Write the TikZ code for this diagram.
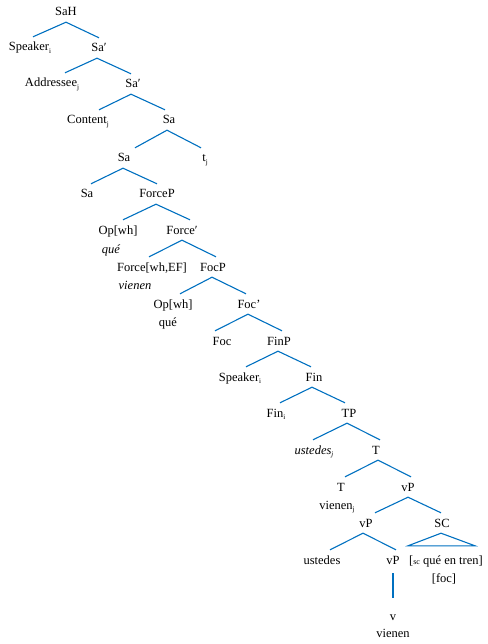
\documentclass[tikz,border=0pt]{standalone}
\usepackage{fontspec}
\setmainfont{Liberation Serif}
\definecolor{treeblue}{RGB}{0,112,192}
\newcommand{\sbs}[1]{\raisebox{-0.35ex}{\fontsize{7}{8}\selectfont #1}}
\begin{document}
\begin{tikzpicture}[x=1pt,y=-1pt,
  lab/.style={font=\fontsize{12.5}{14}\selectfont, text height=11pt, text depth=3pt, inner xsep=1pt, inner ysep=3pt},
  br/.style={draw=treeblue, line width=1.1pt}]
\useasboundingbox (0,0) rectangle (487,644);
\node[lab] (sah) at (66,12) {SaH};
\node[lab] (spk1) at (30,47) {Speaker\sbs{i}};
\node[lab] (sa1) at (99,48) {Sa′};
\node[lab] (addr) at (52,83) {Addressee\sbs{j}};
\node[lab] (sa2) at (133,84) {Sa′};
\node[lab] (cont) at (88,120) {Content\sbs{j}};
\node[lab] (sa3) at (169,120) {Sa};
\node[lab] (sa4) at (124,158) {Sa};
\node[lab] (tj) at (205,158) {t\sbs{j}};
\node[lab] (sa5) at (87,194) {Sa};
\node[lab] (forcep) at (157,194) {ForceP};
\node[lab] (op1) at (118,230) {Op[wh]};
\node[lab] (que1) at (111,249) {\itshape qué};
\node[lab] (forcebar) at (182,230) {Force′};
\node[lab] (force) at (152,267) {Force[wh,EF]};
\node[lab] (vienen1) at (135,285) {\itshape vienen};
\node[lab] (focp) at (213,267) {FocP};
\node[lab] (op2) at (173,304) {Op[wh]};
\node[lab] (que2) at (168,322) {qué};
\node[lab] (focbar) at (249,304) {Foc'};
\node[lab] (foc) at (222,341) {Foc};
\node[lab] (finp) at (279,341) {FinP};
\node[lab] (spk2) at (240,377) {Speaker\sbs{i}};
\node[lab] (fin) at (314,377) {Fin};
\node[lab] (fini) at (276,413) {Fin\sbs{i}};
\node[lab] (tp) at (349,413) {TP};
\node[lab] (ust1) at (314,450) {\itshape ustedes\sbs{j}};
\node[lab] (t1) at (376,450) {T};
\node[lab] (t2) at (341,487) {T};
\node[lab] (vienen2) at (337,505) {vienen\sbs{j}};
\node[lab] (vp1) at (408,487) {vP};
\node[lab] (vp2) at (366,523) {vP};
\node[lab] (sc) at (442,523) {SC};
\node[lab] (ust2) at (322,560) {ustedes};
\node[lab] (vp3) at (393,560) {vP};
\node[lab] (scq) at (446,560) {[{\footnotesize sc} qué en tren]};
\node[lab] (foc2) at (444,578) {[foc]};
\node[lab] (v) at (393,616) {v};
\node[lab] (vienen3) at (393,633) {vienen};
% branches
\draw[br] ([xshift=3pt]spk1.north) -- (sah.south) -- (sa1.north);
\draw[br] ([xshift=13pt]addr.north) -- ([xshift=-2pt]sa1.south) -- ([xshift=-2pt]sa2.north);
\draw[br] ([xshift=11pt]cont.north) -- ([xshift=-2pt]sa2.south) -- ([xshift=-4pt]sa3.north);
\draw[br] ([xshift=11pt]sa4.north) -- ([xshift=-2pt]sa3.south) -- ([xshift=-4pt]tj.north);
\draw[br] ([xshift=4pt]sa5.north) -- ([xshift=-1pt]sa4.south) -- (forcep.north);
\draw[br] ([xshift=5pt]op1.north) -- ([xshift=-1pt]forcep.south) -- ([xshift=8pt]forcebar.north);
\draw[br] ([xshift=-3pt]force.north) -- (forcebar.south) -- ([xshift=3pt]focp.north);
\draw[br] ([xshift=7pt]op2.north) -- ([xshift=-1pt]focp.south) -- ([xshift=-3pt]focbar.north);
\draw[br] ([xshift=-7pt]foc.north) -- ([xshift=-1pt]focbar.south) -- ([xshift=3pt]finp.north);
\draw[br] ([xshift=6pt]spk2.north) -- ([xshift=-1pt]finp.south) -- ([xshift=-3pt]fin.north);
\draw[br] ([xshift=4pt]fini.north) -- ([xshift=-2pt]fin.south) -- ([xshift=-4pt]tp.north);
\draw[br] ([xshift=-1pt]ust1.north) -- ([xshift=-2pt]tp.south) -- ([xshift=4pt]t1.north);
\draw[br] ([xshift=4pt]t2.north) -- ([xshift=2pt]t1.south) -- ([xshift=3pt]vp1.north);
\draw[br] ([xshift=9pt]vp2.north) -- (vp1.south) -- ([xshift=-1pt]sc.north);
\draw[br] ([xshift=8pt]ust2.north) -- ([xshift=-3pt]vp2.south) -- ([xshift=3pt]vp3.north);
\draw[br] ([xshift=-1pt]sc.south) -- ([xshift=-38pt,yshift=4pt]scq.north) -- ([xshift=29pt,yshift=4pt]scq.north) -- cycle;
\draw[br, shorten <=3pt, shorten >=8pt] (vp3.south) -- (v.north);
\end{tikzpicture}
\end{document}
